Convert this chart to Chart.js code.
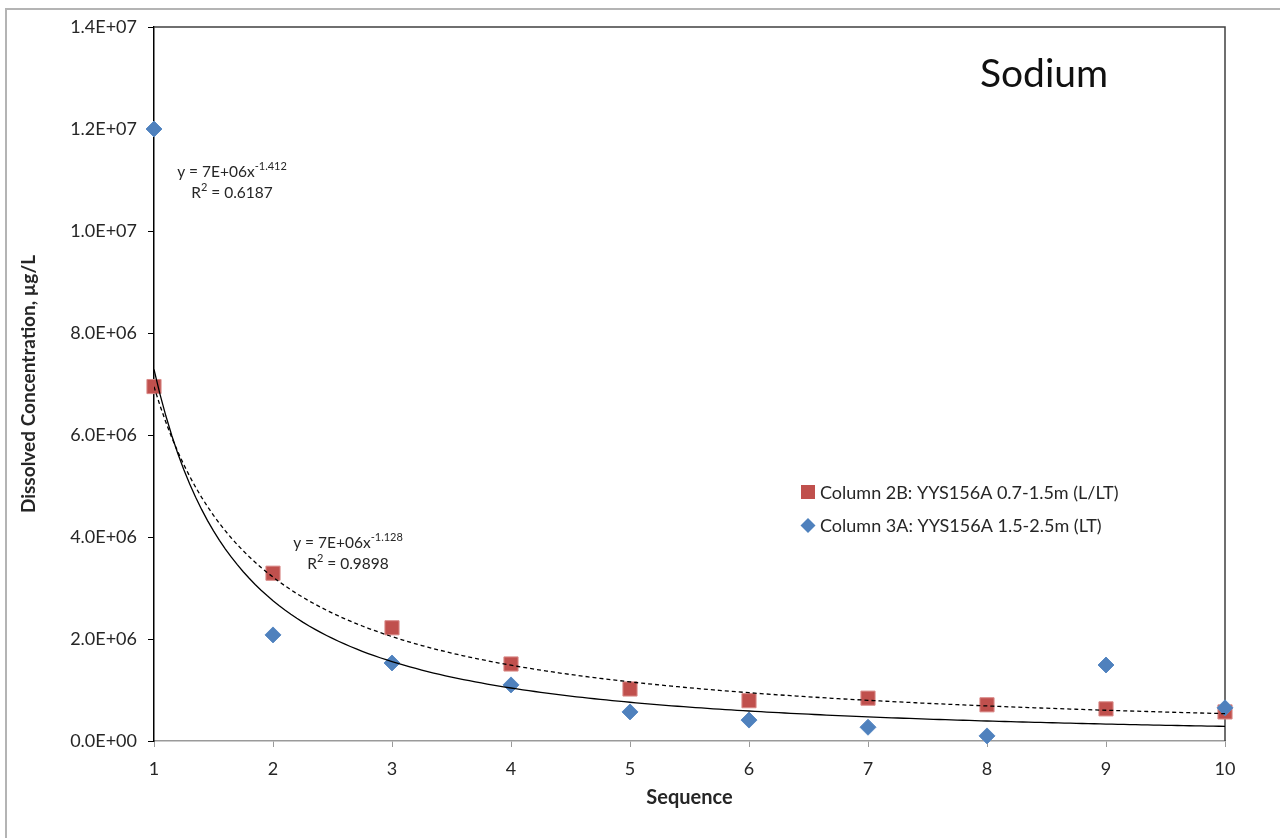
<!DOCTYPE html>
<html>
<head>
<meta charset="utf-8">
<script src="https://cdn.jsdelivr.net/npm/chart.js@4/dist/chart.umd.min.js"></script>
<style>
  body { margin: 0; background: #fff; }
  #frame { position: absolute; left: 5px; top: 8px; width: 1400px; height: 900px;
           border-left: 2px solid #b4b4b4; border-top: 2px solid #b4b4b4; }
  #SodiumCanvas { position: absolute; left: 0; top: 0; }
</style>
</head>
<body>
<div id="frame"></div>
<canvas id="SodiumCanvas" width="1280" height="838"></canvas>
<script>
// values
var sequence = [1, 2, 3, 4, 5, 6, 7, 8, 9, 10];
var column2B = [6.95e6, 3.29e6, 2.22e6, 1.51e6, 1.02e6, 0.79e6, 0.84e6, 0.71e6, 0.63e6, 0.57e6];
var column3A = [1.20e7, 2.08e6, 1.53e6, 1.10e6, 0.57e6, 0.41e6, 0.27e6, 0.10e6, 1.49e6, 0.65e6];
var seriesNames = ['Column 2B: YYS156A 0.7-1.5m (L/LT)', 'Column 3A: YYS156A 1.5-2.5m (LT)'];
var eq3A = ['y = 7E+06x', '-1.412', '0.6187'];
var eq2B = ['y = 7E+06x', '-1.128', '0.9898'];

var FONT = 'Lato, "Open Sans", sans-serif';
var TEXT = '#262626';

function toPoints(xs, ys) {
    return xs.map(function (x, i) { return { x: x, y: ys[i] }; });
}

// least squares power fit in log space, like the spreadsheet trendline
function powerTrend(xs, ys) {
    var lx = xs.map(Math.log), ly = ys.map(Math.log);
    var n = xs.length, mx = 0, my = 0;
    for (var i = 0; i < n; i++) { mx += lx[i] / n; my += ly[i] / n; }
    var sxy = 0, sxx = 0;
    for (var j = 0; j < n; j++) { sxy += (lx[j] - mx) * (ly[j] - my); sxx += (lx[j] - mx) * (lx[j] - mx); }
    var b = sxy / sxx, a = Math.exp(my - b * mx);
    var pts = [];
    for (var k = 0; k <= 180; k++) {
        var x = 1 + k * 0.05;
        pts.push({ x: x, y: a * Math.pow(x, b) });
    }
    return pts;
}

function sci(v) {
    if (v === 0) return '0.0E+00';
    var e = Math.floor(Math.log10(v) + 1e-9);
    var m = v / Math.pow(10, e);
    return m.toFixed(1) + 'E+' + String(e).padStart(2, '0');
}

function drawEquation(ctx, cx, cy, eq) {
    ctx.fillStyle = TEXT;
    ctx.textBaseline = 'middle';
    ctx.textAlign = 'left';
    var big = '15.5px ' + FONT, small = '11px ' + FONT;
    ctx.font = big; var w1 = ctx.measureText(eq[0]).width;
    ctx.font = small; var w2 = ctx.measureText(eq[1]).width;
    var x0 = cx - (w1 + w2) / 2;
    ctx.font = big; ctx.fillText(eq[0], x0, cy);
    ctx.font = small; ctx.fillText(eq[1], x0 + w1, cy - 6);
    var rest = ' = ' + eq[2];
    ctx.font = big; var r1 = ctx.measureText('R').width, r3 = ctx.measureText(rest).width;
    ctx.font = small; var r2 = ctx.measureText('2').width;
    var y2 = cy + 21;
    var x1 = cx - (r1 + r2 + r3) / 2;
    ctx.font = big; ctx.fillText('R', x1, y2);
    ctx.font = small; ctx.fillText('2', x1 + r1, y2 - 6);
    ctx.font = big; ctx.fillText(rest, x1 + r1 + r2, y2);
}

var decorPlugin = {
    id: 'decor',
    beforeDatasetsDraw: function (chart) {
        var ctx = chart.ctx, a = chart.chartArea;
        ctx.save();
        ctx.strokeStyle = '#404040';
        ctx.lineWidth = 1.5;
        ctx.beginPath();
        ctx.moveTo(a.left, a.top);
        ctx.lineTo(a.right, a.top);
        ctx.lineTo(a.right, a.bottom);
        ctx.stroke();
        ctx.restore();
    },
    afterDraw: function (chart) {
        var ctx = chart.ctx;
        ctx.save();
        // title inside the plot
        ctx.fillStyle = '#111';
        ctx.font = '39px ' + FONT;
        ctx.textAlign = 'center';
        ctx.textBaseline = 'middle';
        ctx.fillText('Sodium', 1044, 74);

        drawEquation(ctx, 232, 172, eq3A);
        drawEquation(ctx, 348, 543, eq2B);

        // legend
        ctx.fillStyle = '#C0504D';
        ctx.fillRect(801, 485, 14, 14);
        ctx.fillStyle = '#4F81BD';
        ctx.beginPath();
        ctx.moveTo(808, 518); ctx.lineTo(815.5, 525.5); ctx.lineTo(808, 533); ctx.lineTo(800.5, 525.5);
        ctx.closePath(); ctx.fill();
        ctx.fillStyle = TEXT;
        ctx.font = '18px ' + FONT;
        ctx.textAlign = 'left';
        ctx.textBaseline = 'middle';
        ctx.fillText(seriesNames[0], 820, 493);
        ctx.fillText(seriesNames[1], 820, 526);
        ctx.restore();
    }
};

window.onload = function () {
    var ctx = document.getElementById('SodiumCanvas').getContext('2d');

    window.Sodium = new Chart(ctx, {
        type: 'scatter',
        data: {
            datasets: [
                {
                    label: 'Trend 3A',
                    type: 'line',
                    data: powerTrend(sequence, column3A),
                    borderColor: '#000',
                    borderWidth: 1.3,
                    pointRadius: 0,
                    fill: false,
                    order: 0
                },
                {
                    label: 'Trend 2B',
                    type: 'line',
                    data: powerTrend(sequence, column2B),
                    borderColor: '#000',
                    borderWidth: 1.3,
                    borderDash: [4, 3],
                    pointRadius: 0,
                    fill: false,
                    order: 0
                },
                {
                    label: seriesNames[1],
                    data: toPoints(sequence, column3A),
                    pointStyle: 'rectRot',
                    pointRadius: 8,
                    backgroundColor: '#4F81BD',
                    borderColor: '#5a8ac4',
                    borderWidth: 1,
                    clip: false,
                    order: 1
                },
                {
                    label: seriesNames[0],
                    data: toPoints(sequence, column2B),
                    pointStyle: 'rect',
                    pointRadius: 10,
                    backgroundColor: '#C0504D',
                    borderColor: '#d98a88',
                    borderWidth: 1,
                    clip: false,
                    order: 2
                }
            ]
        },
        options: {
            responsive: false,
            animation: false,
            layout: { padding: { top: 27, right: 55, left: 0, bottom: 0 } },
            scales: {
                x: {
                    type: 'linear',
                    min: 1,
                    max: 10,
                    afterFit: function (scale) { scale.height = 97; },
                    ticks: { stepSize: 1, padding: 11, color: TEXT, font: { family: FONT, size: 18 } },
                    grid: { drawOnChartArea: false, drawTicks: true, tickLength: 6, color: '#9a9a9a' },
                    border: { color: '#9a9a9a', width: 1.5 },
                    title: { display: true, text: 'Sequence', color: TEXT,
                             font: { family: FONT, size: 20, weight: 'bold' }, padding: { bottom: 28 } }
                },
                y: {
                    min: 0,
                    max: 1.4e7,
                    afterFit: function (scale) { scale.width = 154; },
                    ticks: {
                        stepSize: 2e6, padding: 11, color: TEXT, font: { family: FONT, size: 18 },
                        callback: function (v) { return sci(v); }
                    },
                    grid: { drawOnChartArea: false, drawTicks: true, tickLength: 6, color: '#000' },
                    border: { color: '#000', width: 1.5 },
                    title: { display: true, text: 'Dissolved Concentration, µg/L', color: TEXT,
                             font: { family: FONT, size: 19, weight: 'bold' }, padding: { top: 17 } }
                }
            },
            plugins: {
                legend: { display: false },
                tooltip: { enabled: false }
            }
        },
        plugins: [decorPlugin]
    });
};
</script>
</body>
</html>
